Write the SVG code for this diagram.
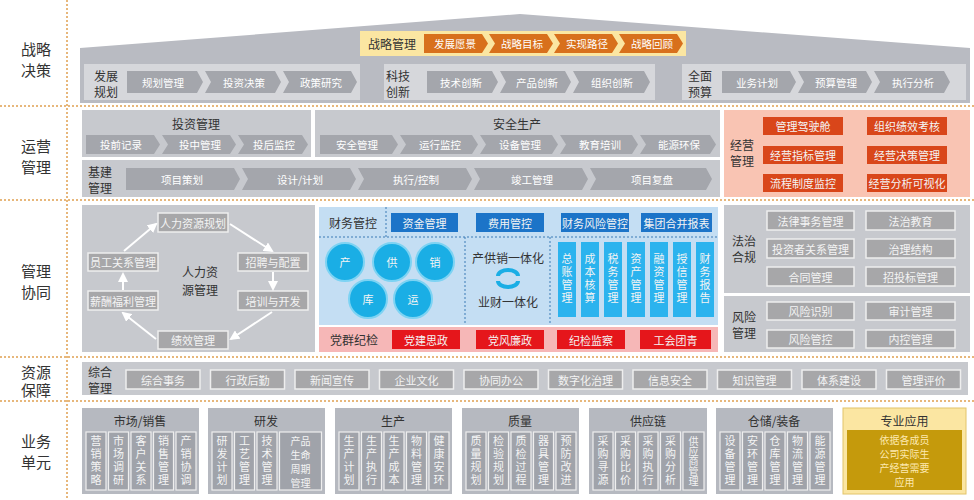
<svg xmlns="http://www.w3.org/2000/svg" width="974" height="500" viewBox="0 0 974 500">
<style>
text{font-family:"Noto Sans CJK SC","Noto Sans",sans-serif;text-anchor:middle;dominant-baseline:central}
.lbl{font-size:15px;fill:#333}
.sep{stroke:#e0a050;stroke-width:1.5;stroke-dasharray:2 2;fill:none}
.pnl{fill:#c7c9ce}
.ipn{fill:#d6d7db}
.chv{fill:#a4a6ac}
.ct{font-size:10.5px;fill:#fff}
.pt{font-size:12px;fill:#333}
.och{fill:#d8701c}
.gb{fill:#a7a7a9;stroke:#eee;stroke-width:1.5}
.wt{font-size:11px;fill:#f4f4f4}
.sm{font-size:10px;fill:#f4f4f4}
.rb{fill:#d9461a}
.bb{fill:#1c74c8}
.cb{fill:#2bb3ee}
.crc{fill:#1aaee5;stroke:#7dd3f3;stroke-width:2}
.rr{fill:#e5161b}
.v{writing-mode:vertical-rl;font-size:11px;fill:#f4f4f4;letter-spacing:2px}
.ub{fill:#b6b9c0}
.ib{fill:#a0a3aa;stroke:#eee;stroke-width:1.2}
.dl{stroke:#3a7ab5;stroke-width:1;stroke-dasharray:2 2;fill:none}
</style>
<defs>
<marker id="ah" viewBox="0 0 10 10" refX="8" refY="5" markerWidth="5" markerHeight="5" orient="auto"><path d="M0,0L10,5L0,10z" fill="#fff"/></marker>
</defs>
<rect width="974" height="500" fill="#fff"/>

<g id="separators">
<line class="sep" x1="0" y1="106" x2="974" y2="106"/>
<line class="sep" x1="0" y1="200" x2="974" y2="200"/>
<line class="sep" x1="0" y1="357" x2="974" y2="357"/>
<line class="sep" x1="0" y1="401" x2="974" y2="401"/>
<line class="sep" x1="67" y1="0" x2="67" y2="500"/>
</g>

<g id="row-labels">
<text class="lbl" x="36" y="48">战略</text><text class="lbl" x="36" y="69">决策</text>
<text class="lbl" x="36" y="145">运营</text><text class="lbl" x="36" y="166">管理</text>
<text class="lbl" x="36" y="270">管理</text><text class="lbl" x="36" y="291">协同</text>
<text class="lbl" x="36" y="371">资源</text><text class="lbl" x="36" y="389">保障</text>
<text class="lbl" x="36" y="440">业务</text><text class="lbl" x="36" y="461">单元</text>
</g>

<g id="strategy">
<polygon points="80,48 520,14 970,48 970,103 80,103" fill="#b9bbc2"/>
<g id="strategy-mgmt">
<rect x="360" y="31" width="326" height="25" fill="#fbe6a2"/>
<text class="pt" x="392" y="43.5">战略管理</text>
<polygon class="och" points="424,34 482,34 488,43.5 482,53 424,53"/><text class="ct" x="455" y="43.5">发展愿景</text>
<polygon class="och" points="489,34 547,34 553,43.5 547,53 489,53 495,43.5"/><text class="ct" x="522" y="43.5">战略目标</text>
<polygon class="och" points="554,34 612,34 618,43.5 612,53 554,53 560,43.5"/><text class="ct" x="587" y="43.5">实现路径</text>
<polygon class="och" points="619,34 677,34 683,43.5 677,53 619,53 625,43.5"/><text class="ct" x="652" y="43.5">战略回顾</text>
</g>
<g id="dev-plan">
<rect class="ipn" x="84" y="64" width="276" height="36"/>
<text class="pt" x="106" y="75">发展</text><text class="pt" x="106" y="91">规划</text>
<polygon class="chv" points="127,71 197,71 203,82 197,93 127,93"/><text class="ct" x="163" y="82">规划管理</text>
<polygon class="chv" points="205,71 275,71 281,82 275,93 205,93 211,82"/><text class="ct" x="244" y="82">投资决策</text>
<polygon class="chv" points="283,71 351,71 357,82 351,93 283,93 289,82"/><text class="ct" x="321" y="82">政策研究</text>
</g>
<g id="tech">
<rect class="ipn" x="384" y="64" width="271" height="36"/>
<text class="pt" x="398" y="75">科技</text><text class="pt" x="398" y="91">创新</text>
<polygon class="chv" points="427,71 492,71 498,82 492,93 427,93"/><text class="ct" x="461" y="82">技术创新</text>
<polygon class="chv" points="500,71 565,71 571,82 565,93 500,93 506,82"/><text class="ct" x="537" y="82">产品创新</text>
<polygon class="chv" points="573,71 644,71 650,82 644,93 573,93 579,82"/><text class="ct" x="612" y="82">组织创新</text>
</g>
<g id="budget">
<rect class="ipn" x="682" y="64" width="284" height="36"/>
<text class="pt" x="700" y="75">全面</text><text class="pt" x="700" y="91">预算</text>
<polygon class="chv" points="722,71 790,71 796,82 790,93 722,93"/><text class="ct" x="757" y="82">业务计划</text>
<polygon class="chv" points="798,71 866,71 872,82 866,93 798,93 804,82"/><text class="ct" x="836" y="82">预算管理</text>
<polygon class="chv" points="874,71 944,71 950,82 944,93 874,93 880,82"/><text class="ct" x="913" y="82">执行分析</text>
</g>
</g>

<g id="operations">
<g id="invest">
<rect class="pnl" x="82" y="110" width="229" height="47"/>
<text class="pt" x="196" y="123">投资管理</text>
<polygon class="chv" points="86,135 154,135 160,144.5 154,154 86,154"/><text class="ct" x="121" y="144.5">投前记录</text>
<polygon class="chv" points="162,135 230,135 236,144.5 230,154 162,154 168,144.5"/><text class="ct" x="200" y="144.5">投中管理</text>
<polygon class="chv" points="238,135 302,135 308,144.5 302,154 238,154 244,144.5"/><text class="ct" x="274" y="144.5">投后监控</text>
</g>
<g id="safety">
<rect class="pnl" x="315" y="110" width="405" height="47"/>
<text class="pt" x="517" y="123">安全生产</text>
<polygon class="chv" points="320,135 392,135 398,144.5 392,154 320,154"/><text class="ct" x="357" y="144.5">安全管理</text>
<polygon class="chv" points="400,135 472,135 478,144.5 472,154 400,154 406,144.5"/><text class="ct" x="440" y="144.5">运行监控</text>
<polygon class="chv" points="480,135 552,135 558,144.5 552,154 480,154 486,144.5"/><text class="ct" x="520" y="144.5">设备管理</text>
<polygon class="chv" points="560,135 632,135 638,144.5 632,154 560,154 566,144.5"/><text class="ct" x="600" y="144.5">教育培训</text>
<polygon class="chv" points="640,135 710,135 716,144.5 710,154 640,154 646,144.5"/><text class="ct" x="679" y="144.5">能源环保</text>
</g>
<g id="construction">
<rect class="pnl" x="82" y="160" width="638" height="37"/>
<text class="pt" x="100" y="171">基建</text><text class="pt" x="100" y="187">管理</text>
<polygon class="chv" points="126,168 234,168 240,179 234,190 126,190"/><text class="ct" x="182" y="179">项目策划</text>
<polygon class="chv" points="242,168 350,168 356,179 350,190 242,190 248,179"/><text class="ct" x="300" y="179">设计/计划</text>
<polygon class="chv" points="358,168 466,168 472,179 466,190 358,190 364,179"/><text class="ct" x="416" y="179">执行/控制</text>
<polygon class="chv" points="474,168 582,168 588,179 582,190 474,190 480,179"/><text class="ct" x="532" y="179">竣工管理</text>
<polygon class="chv" points="590,168 706,168 712,179 706,190 590,190 596,179"/><text class="ct" x="652" y="179">项目复盘</text>
</g>
<g id="biz-mgmt">
<rect x="724" y="110" width="246" height="87" fill="#f9c4b3"/>
<text class="pt" x="742" y="144">经营</text><text class="pt" x="742" y="160">管理</text>
<rect class="rb" x="763" y="117" width="80" height="18"/><text class="wt" x="803" y="126">管理驾驶舱</text>
<rect class="rb" x="867" y="117" width="80" height="18"/><text class="wt" x="907" y="126">组织绩效考核</text>
<rect class="rb" x="763" y="146" width="80" height="18"/><text class="wt" x="803" y="155">经营指标管理</text>
<rect class="rb" x="867" y="146" width="80" height="18"/><text class="wt" x="907" y="155">经营决策管理</text>
<rect class="rb" x="763" y="174" width="80" height="18"/><text class="wt" x="803" y="183">流程制度监控</text>
<rect class="rb" x="867" y="174" width="80" height="18"/><text class="wt" x="907" y="183">经营分析可视化</text>
</g>
</g>

<g id="hr">
<rect class="pnl" x="82" y="205" width="233" height="147"/>
<text class="pt" x="200" y="271">人力资</text><text class="pt" x="200" y="289">源管理</text>
<rect class="gb" x="158" y="213" width="70" height="19"/><text class="wt" x="193" y="222.5">人力资源规划</text>
<rect class="gb" x="238" y="253" width="70" height="18"/><text class="wt" x="273" y="262">招聘与配置</text>
<rect class="gb" x="238" y="291" width="70" height="19"/><text class="wt" x="273" y="300.5">培训与开发</text>
<rect class="gb" x="158" y="331" width="70" height="18"/><text class="wt" x="193" y="340">绩效管理</text>
<rect class="gb" x="88" y="291" width="70" height="19"/><text class="wt" x="123" y="300.5">薪酬福利管理</text>
<rect class="gb" x="88" y="253" width="70" height="18"/><text class="wt" x="123" y="262">员工关系管理</text>
</g>

<g id="connectors" stroke="#fff" stroke-width="2" fill="none" marker-end="url(#ah)">
<line x1="230" y1="224" x2="272" y2="251"/>
<line x1="273" y1="272" x2="273" y2="289"/>
<line x1="272" y1="312" x2="231" y2="339"/>
<line x1="156" y1="339" x2="123" y2="313"/>
<line x1="123" y1="290" x2="123" y2="274"/>
<line x1="124" y1="251" x2="156" y2="224"/>
<g stroke="#1f3a68" stroke-width="1.5" marker-end="none">
<line x1="345" y1="262" x2="392" y2="262"/>
<line x1="392" y1="262" x2="435" y2="262"/>
<line x1="345" y1="262" x2="368" y2="298"/>
<line x1="368" y1="298" x2="413" y2="298"/>
<line x1="413" y1="298" x2="435" y2="262"/>
<line x1="392" y1="262" x2="413" y2="298"/>
</g>
</g>

<g id="finance">
<rect x="319" y="207" width="399" height="118" fill="#c4def3"/>
<text class="pt" x="353" y="222">财务管控</text>
<line class="dl" x1="386" y1="207" x2="386" y2="237"/>
<line class="dl" x1="319" y1="237" x2="718" y2="237"/>
<line class="dl" x1="465" y1="237" x2="465" y2="325"/>
<line class="dl" x1="550" y1="237" x2="550" y2="325"/>
<rect class="bb" x="391" y="213" width="67" height="19"/><text class="wt" x="424.5" y="222.5">资金管理</text>
<rect class="bb" x="476" y="213" width="68" height="19"/><text class="wt" x="510" y="222.5">费用管控</text>
<rect class="bb" x="561" y="213" width="68" height="19"/><text class="wt" x="595" y="222.5">财务风险管控</text>
<rect class="bb" x="641" y="213" width="71" height="19"/><text class="wt" x="676.5" y="222.5">集团合并报表</text>
<circle class="crc" cx="345" cy="262" r="19"/><text class="wt" x="345" y="262" font-size="12">产</text>
<circle class="crc" cx="392" cy="262" r="19"/><text class="wt" x="392" y="262" font-size="12">供</text>
<circle class="crc" cx="435" cy="262" r="19"/><text class="wt" x="435" y="262" font-size="12">销</text>
<circle class="crc" cx="368" cy="299" r="19"/><text class="wt" x="368" y="299" font-size="12">库</text>
<circle class="crc" cx="413" cy="299" r="19"/><text class="wt" x="413" y="299" font-size="12">运</text>
<text class="pt" x="508" y="257">产供销一体化</text>
<text class="pt" x="508" y="301">业财一体化</text>
<g fill="none" stroke="#1aaee5" stroke-width="4">
<path d="M498,276 a10,6 0 0 1 20,0"/><path d="M518,281 a10,6 0 0 1 -20,0"/>
</g>
<g id="fin-cols">
<rect class="cb" x="558" y="242" width="18" height="75"/><text class="v" x="567" y="279.5">总账管理</text>
<rect class="cb" x="581" y="242" width="18" height="75"/><text class="v" x="590" y="279.5">成本核算</text>
<rect class="cb" x="604" y="242" width="18" height="75"/><text class="v" x="613" y="279.5">税务管理</text>
<rect class="cb" x="627" y="242" width="18" height="75"/><text class="v" x="636" y="279.5">资产管理</text>
<rect class="cb" x="650" y="242" width="18" height="75"/><text class="v" x="659" y="279.5">融资管理</text>
<rect class="cb" x="673" y="242" width="18" height="75"/><text class="v" x="682" y="279.5">授信管理</text>
<rect class="cb" x="696" y="242" width="18" height="75"/><text class="v" x="705" y="279.5">财务报告</text>
</g>
</g>

<g id="party">
<rect x="319" y="327" width="399" height="25" fill="#f6b7b7"/>
<text class="pt" x="354" y="339.5">党群纪检</text>
<rect class="rr" x="392" y="330" width="68" height="19"/><text class="wt" x="426" y="339.5">党建思政</text>
<rect class="rr" x="476" y="330" width="68" height="19"/><text class="wt" x="510" y="339.5">党风廉政</text>
<rect class="rr" x="557" y="330" width="68" height="19"/><text class="wt" x="591" y="339.5">纪检监察</text>
<rect class="rr" x="640" y="330" width="71" height="19"/><text class="wt" x="675.5" y="339.5">工会团青</text>
</g>

<g id="law">
<rect class="pnl" x="724" y="205" width="246" height="88"/>
<text class="pt" x="744" y="240">法治</text><text class="pt" x="744" y="256">合规</text>
<rect class="gb" x="767" y="211" width="87" height="19"/><text class="wt" x="810.5" y="220.5">法律事务管理</text>
<rect class="gb" x="866" y="211" width="89" height="19"/><text class="wt" x="910.5" y="220.5">法治教育</text>
<rect class="gb" x="767" y="239" width="87" height="19"/><text class="wt" x="810.5" y="248.5">投资者关系管理</text>
<rect class="gb" x="866" y="239" width="89" height="19"/><text class="wt" x="910.5" y="248.5">治理结构</text>
<rect class="gb" x="767" y="267" width="87" height="19"/><text class="wt" x="810.5" y="276.5">合同管理</text>
<rect class="gb" x="866" y="267" width="89" height="19"/><text class="wt" x="910.5" y="276.5">招投标管理</text>
</g>
<g id="risk">
<rect class="pnl" x="724" y="296" width="246" height="56"/>
<text class="pt" x="744" y="316">风险</text><text class="pt" x="744" y="332">管理</text>
<rect class="gb" x="767" y="302" width="87" height="18"/><text class="wt" x="810.5" y="311">风险识别</text>
<rect class="gb" x="866" y="302" width="89" height="18"/><text class="wt" x="910.5" y="311">审计管理</text>
<rect class="gb" x="767" y="330" width="87" height="18"/><text class="wt" x="810.5" y="339">风险管控</text>
<rect class="gb" x="866" y="330" width="89" height="18"/><text class="wt" x="910.5" y="339">内控管理</text>
</g>

<g id="resources">
<rect class="pnl" x="82" y="362" width="886" height="33"/>
<text class="pt" x="100" y="371">综合</text><text class="pt" x="100" y="387">管理</text>
<rect class="gb" x="126" y="370" width="74" height="19"/><text class="wt" x="163" y="379.5">综合事务</text>
<rect class="gb" x="210.5" y="370" width="74" height="19"/><text class="wt" x="247.5" y="379.5">行政后勤</text>
<rect class="gb" x="295" y="370" width="74" height="19"/><text class="wt" x="332" y="379.5">新闻宣传</text>
<rect class="gb" x="379.5" y="370" width="74" height="19"/><text class="wt" x="416.5" y="379.5">企业文化</text>
<rect class="gb" x="464" y="370" width="74" height="19"/><text class="wt" x="501" y="379.5">协同办公</text>
<rect class="gb" x="548.5" y="370" width="74" height="19"/><text class="wt" x="585.5" y="379.5">数字化治理</text>
<rect class="gb" x="633" y="370" width="74" height="19"/><text class="wt" x="670" y="379.5">信息安全</text>
<rect class="gb" x="717.5" y="370" width="74" height="19"/><text class="wt" x="754.5" y="379.5">知识管理</text>
<rect class="gb" x="802" y="370" width="74" height="19"/><text class="wt" x="839" y="379.5">体系建设</text>
<rect class="gb" x="886.5" y="370" width="74" height="19"/><text class="wt" x="923.5" y="379.5">管理评价</text>
</g>

<g id="unit-market">
<rect class="ub" x="82" y="408" width="117" height="86"/>
<text class="pt" x="140" y="420">市场/销售</text>
<rect class="ib" x="86" y="432" width="20" height="58"/><text class="v" x="96" y="461">营销策略</text>
<rect class="ib" x="108.5" y="432" width="20" height="58"/><text class="v" x="118.5" y="461">市场调研</text>
<rect class="ib" x="131" y="432" width="20" height="58"/><text class="v" x="141" y="461">客户关系</text>
<rect class="ib" x="153.5" y="432" width="20" height="58"/><text class="v" x="163.5" y="461">销售管理</text>
<rect class="ib" x="176" y="432" width="20" height="58"/><text class="v" x="186" y="461">产销协调</text>
</g>
<g id="unit-rd">
<rect class="ub" x="208" y="408" width="117" height="86"/>
<text class="pt" x="266" y="420">研发</text>
<rect class="ib" x="212" y="432" width="20" height="58"/><text class="v" x="222" y="461">研发计划</text>
<rect class="ib" x="234.5" y="432" width="20" height="58"/><text class="v" x="244.5" y="461">工艺管理</text>
<rect class="ib" x="257" y="432" width="20" height="58"/><text class="v" x="267" y="461">技术管理</text>
<rect class="ib" x="279.5" y="432" width="42" height="58"/>
<text class="sm" x="300.5" y="440"><tspan x="300.5" dy="0">产品</tspan><tspan x="300.5" dy="14">生命</tspan><tspan x="300.5" dy="14">周期</tspan><tspan x="300.5" dy="14">管理</tspan></text>
</g>
<g id="unit-production">
<rect class="ub" x="335" y="408" width="117" height="86"/>
<text class="pt" x="393" y="420">生产</text>
<rect class="ib" x="339" y="432" width="20" height="58"/><text class="v" x="349" y="461">生产计划</text>
<rect class="ib" x="361.5" y="432" width="20" height="58"/><text class="v" x="371.5" y="461">生产执行</text>
<rect class="ib" x="384" y="432" width="20" height="58"/><text class="v" x="394" y="461">生产成本</text>
<rect class="ib" x="406.5" y="432" width="20" height="58"/><text class="v" x="416.5" y="461">物料管理</text>
<rect class="ib" x="429" y="432" width="20" height="58"/><text class="v" x="439" y="461">健康安环</text>
</g>
<g id="unit-quality">
<rect class="ub" x="462" y="408" width="117" height="86"/>
<text class="pt" x="520" y="420">质量</text>
<rect class="ib" x="466" y="432" width="20" height="58"/><text class="v" x="476" y="461">质量规划</text>
<rect class="ib" x="488.5" y="432" width="20" height="58"/><text class="v" x="498.5" y="461">检验规划</text>
<rect class="ib" x="511" y="432" width="20" height="58"/><text class="v" x="521" y="461">质检过程</text>
<rect class="ib" x="533.5" y="432" width="20" height="58"/><text class="v" x="543.5" y="461">器具管理</text>
<rect class="ib" x="556" y="432" width="20" height="58"/><text class="v" x="566" y="461">预防改进</text>
</g>
<g id="unit-supply">
<rect class="ub" x="589" y="408" width="118" height="86"/>
<text class="pt" x="648" y="420">供应链</text>
<rect class="ib" x="593" y="432" width="20" height="58"/><text class="v" x="603" y="461">采购寻源</text>
<rect class="ib" x="615.5" y="432" width="20" height="58"/><text class="v" x="625.5" y="461">采购比价</text>
<rect class="ib" x="638" y="432" width="20" height="58"/><text class="v" x="648" y="461">采购执行</text>
<rect class="ib" x="660.5" y="432" width="20" height="58"/><text class="v" x="670.5" y="461">采购分析</text>
<rect class="ib" x="683" y="432" width="21" height="58"/><text class="v" x="693.5" y="461" style="letter-spacing:0;font-size:10px">供应商管理</text>
</g>
<g id="unit-warehouse">
<rect class="ub" x="716" y="408" width="117" height="86"/>
<text class="pt" x="774" y="420">仓储/装备</text>
<rect class="ib" x="720" y="432" width="20" height="58"/><text class="v" x="730" y="461">设备管理</text>
<rect class="ib" x="742.5" y="432" width="20" height="58"/><text class="v" x="752.5" y="461">安环管理</text>
<rect class="ib" x="765" y="432" width="20" height="58"/><text class="v" x="775" y="461">仓库管理</text>
<rect class="ib" x="787.5" y="432" width="20" height="58"/><text class="v" x="797.5" y="461">物流管理</text>
<rect class="ib" x="810" y="432" width="20" height="58"/><text class="v" x="820" y="461">能源管理</text>
</g>
<g id="unit-special">
<rect x="843" y="408" width="123" height="86" fill="#fbe6a2" stroke="#e2c46a"/>
<text class="pt" x="904.5" y="420">专业应用</text>
<rect x="847" y="430" width="115" height="60" fill="#c59a0c"/>
<text class="sm" x="904.5" y="439" fill="#fde9b0" style="fill:#fde9b0"><tspan x="904.5" dy="0">依据各成员</tspan><tspan x="904.5" dy="14">公司实际生</tspan><tspan x="904.5" dy="14">产经营需要</tspan><tspan x="904.5" dy="14">应用</tspan></text>
</g>
</svg>
